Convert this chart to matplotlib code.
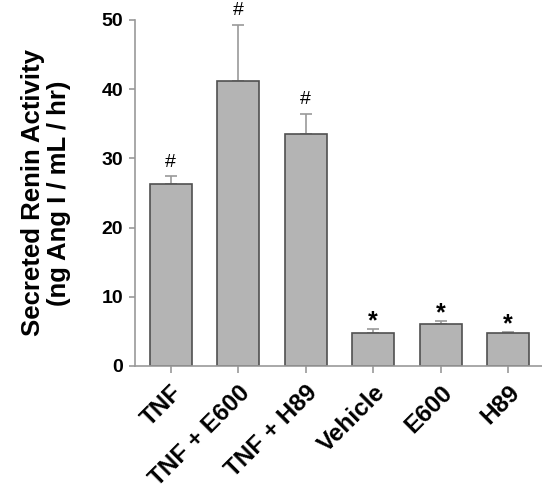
import matplotlib
matplotlib.use('Agg')
import matplotlib.pyplot as plt
import numpy as np

# Renin-Sekretion je Behandlung (Mittelwert + SEM)
groups = ['TNF', 'TNF + E600', 'TNF + H89', 'Vehicle', 'E600', 'H89']
means = [26.3, 41.2, 33.5, 4.8, 6.0, 4.8]
sems = [1.1, 8.1, 2.9, 0.5, 0.5, 0.12]
marks = ['#', '#', '#', '*', '*', '*']

plt.rcParams['font.family'] = ['Liberation Sans', 'DejaVu Sans']
plt.rcParams['font.weight'] = 'bold'

fig = plt.figure(figsize=(5.42, 4.91), dpi=100)
ax = fig.add_axes([0.249, 0.2546, 0.751, 0.705])

x = np.arange(len(groups))
ax.bar(x, means, width=0.62, color='#b4b4b4', edgecolor='#505050', linewidth=1.2, zorder=2)
ax.errorbar(x, means, yerr=[np.zeros(len(sems)), sems], fmt='none',
            ecolor='#999999', elinewidth=1.2, capsize=4, capthick=1.2, zorder=1)

for xi, m, s, sym in zip(x, means, sems, marks):
    size = 14 if sym == '#' else 18
    off = 4 if sym == '#' else -3
    ax.annotate(sym, (xi, m + s), xytext=(0, off), textcoords='offset points',
                ha='center', va='bottom', fontsize=size, fontweight='normal' if sym == '#' else 'bold')

ax.set_xlim(-0.53, 5.5)
ax.set_ylim(0, 50)
ax.set_yticks([0, 10, 20, 30, 40, 50])
ax.set_xticks(x)
ax.set_xticklabels(groups, rotation=45, ha='right', rotation_mode='anchor', fontsize=17.5, fontweight='bold')
ax.tick_params(axis='y', labelsize=14, colors='#999999', labelcolor='black', length=4, width=1.2, pad=4.5)
ax.tick_params(axis='x', colors='#999999', labelcolor='black', length=5, width=1.2, pad=6)
for lbl in ax.get_yticklabels():
    lbl.set_fontweight('bold')

for side in ['top', 'right']:
    ax.spines[side].set_visible(False)
for side in ['left', 'bottom']:
    ax.spines[side].set_color('#999999')
    ax.spines[side].set_linewidth(1.2)

ax.set_ylabel('Secreted Renin Activity\n(ng Ang I / mL / hr)', fontsize=18.5, fontweight='bold',
              labelpad=22, linespacing=1.12)

# Panel-Buchstabe, oben links angeschnitten
fig.text(-0.004, 1.02, 'B', fontsize=22, fontweight='bold', ha='left', va='center')

fig.savefig('out.png', dpi=100)
